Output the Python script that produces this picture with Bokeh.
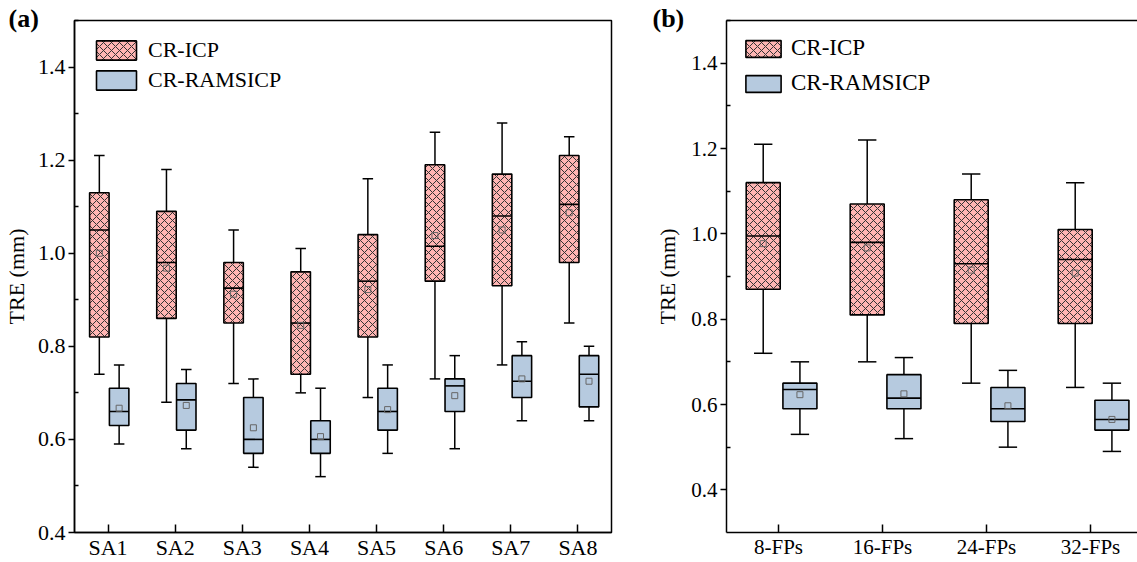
import numpy as np
from bokeh.plotting import figure
from bokeh.models import FixedTicker, LinearAxis, Range1d, PrintfTickFormatter
from bokeh.layouts import row
from bokeh.embed import file_html
from bokeh.resources import INLINE

# ---------------- data ----------------
cats_a = ["SA1", "SA2", "SA3", "SA4", "SA5", "SA6", "SA7", "SA8"]
icp_a_max = [1.21, 1.18, 1.05, 1.01, 1.16, 1.26, 1.28, 1.25]
icp_a_q3 = [1.13, 1.09, 0.98, 0.96, 1.04, 1.19, 1.17, 1.21]
icp_a_med = [1.05, 0.98, 0.925, 0.85, 0.94, 1.015, 1.08, 1.105]
icp_a_mean = [1.00, 0.968, 0.912, 0.845, 0.922, 1.038, 1.05, 1.087]
icp_a_q1 = [0.82, 0.86, 0.85, 0.74, 0.82, 0.94, 0.93, 0.98]
icp_a_min = [0.74, 0.68, 0.72, 0.70, 0.69, 0.73, 0.76, 0.85]

ram_a_max = [0.76, 0.75, 0.73, 0.71, 0.76, 0.78, 0.81, 0.80]
ram_a_q3 = [0.71, 0.72, 0.69, 0.64, 0.71, 0.73, 0.78, 0.78]
ram_a_med = [0.66, 0.685, 0.60, 0.60, 0.66, 0.715, 0.725, 0.74]
ram_a_mean = [0.667, 0.673, 0.625, 0.606, 0.664, 0.694, 0.73, 0.725]
ram_a_q1 = [0.63, 0.62, 0.57, 0.57, 0.62, 0.66, 0.69, 0.67]
ram_a_min = [0.59, 0.58, 0.54, 0.52, 0.57, 0.58, 0.64, 0.64]

cats_b = ["8-FPs", "16-FPs", "24-FPs", "32-FPs"]
icp_b_max = [1.21, 1.22, 1.14, 1.12]
icp_b_q3 = [1.12, 1.07, 1.08, 1.01]
icp_b_med = [0.995, 0.98, 0.93, 0.94]
icp_b_mean = [0.977, 0.967, 0.915, 0.908]
icp_b_q1 = [0.87, 0.81, 0.79, 0.79]
icp_b_min = [0.72, 0.70, 0.65, 0.64]

ram_b_max = [0.70, 0.71, 0.68, 0.65]
ram_b_q3 = [0.65, 0.67, 0.64, 0.61]
ram_b_med = [0.635, 0.615, 0.59, 0.565]
ram_b_mean = [0.623, 0.625, 0.597, 0.565]
ram_b_q1 = [0.59, 0.59, 0.56, 0.54]
ram_b_min = [0.53, 0.52, 0.50, 0.49]

series_names = ["CR-ICP", "CR-RAMSICP"]
panel_tags = ["(a)", "(b)"]
y_title = "TRE (mm)"
y_major = [0.4, 0.6, 0.8, 1.0, 1.2, 1.4]
y_minor = [0.5, 0.7, 0.9, 1.1, 1.3, 1.5]

# ---------------- style ----------------
FONT = "Liberation Serif"
ICP_FILL = "#FFB5B3"
RAM_FILL = "#B6CADF"
HATCH_COLOR = "#333333"


def draw_box(p, xs, mx, q3, med, mean, q1, mn, width, fill, hatch, label):
    xs = np.asarray(xs, dtype=float)
    cap = width * 0.27
    kw = dict(line_color="black", line_width=1.5)
    p.segment(x0=xs, x1=xs, y0=q3, y1=mx, **kw)
    p.segment(x0=xs, x1=xs, y0=q1, y1=mn, **kw)
    p.segment(x0=xs - cap, x1=xs + cap, y0=mx, y1=mx, **kw)
    p.segment(x0=xs - cap, x1=xs + cap, y0=mn, y1=mn, **kw)
    extra = {}
    if hatch:
        extra = dict(hatch_pattern="x", hatch_color=HATCH_COLOR,
                     hatch_scale=8, hatch_weight=1)
    p.vbar(x=xs, width=width, top=q3, bottom=q1, fill_color=fill,
           line_color="black", line_width=1.6, legend_label=label, **extra)
    p.segment(x0=xs - width / 2, x1=xs + width / 2, y0=med, y1=med,
              line_color="black", line_width=1.6)
    p.scatter(x=xs, y=mean, marker="square", size=6, fill_color=None,
              line_color="#666666", line_width=1)


def style(p, cats, tick_font, title_font, title_standoff):
    p.grid.visible = False
    xax = p.below[0]
    yax = p.left[0]
    xax.ticker = FixedTicker(ticks=list(range(1, len(cats) + 1)))
    xax.major_label_overrides = {i + 1: c for i, c in enumerate(cats)}
    xax.major_tick_in = 8
    xax.major_tick_out = 0
    yax.ticker = FixedTicker(ticks=y_major, minor_ticks=y_minor)
    yax.formatter = PrintfTickFormatter(format="%.1f")
    yax.major_tick_out = 6
    yax.major_tick_in = 0
    yax.minor_tick_in = 4
    yax.minor_tick_out = 0
    yax.major_label_standoff = 3
    xax.major_label_standoff = 2
    yax.axis_label = y_title
    yax.axis_label_text_font = FONT
    yax.axis_label_text_font_style = "normal"
    yax.axis_label_text_font_size = title_font
    yax.axis_label_text_color = "black"
    yax.axis_label_standoff = title_standoff
    for ax in (xax, yax):
        ax.axis_line_width = 1.5
        ax.axis_line_color = "black"
        ax.major_tick_line_color = "black"
        ax.major_tick_line_width = 1.5
        ax.minor_tick_line_color = "black"
        ax.minor_tick_line_width = 1.5
        ax.major_label_text_font = FONT
        ax.major_label_text_font_size = tick_font
        ax.major_label_text_color = "black"
    xax.minor_tick_line_color = None


def style_legend(p, margin, spacing, gw, gh, standoff, font):
    lg = p.legend[0]
    lg.location = "top_left"
    lg.margin = margin
    lg.padding = 0
    lg.spacing = spacing
    lg.glyph_width = gw
    lg.glyph_height = gh
    lg.label_height = gh
    lg.label_standoff = standoff
    lg.border_line_color = None
    lg.background_fill_alpha = 0
    lg.label_text_font = FONT
    lg.label_text_font_size = font
    lg.label_text_color = "black"


def tag(p, text, offset):
    p.title.text = text
    p.title.text_font = FONT
    p.title.text_font_style = "bold"
    p.title.text_font_size = "26px"
    p.title.text_color = "black"
    p.title.align = "left"
    p.title.vertical_align = "bottom"
    p.title.offset = offset
    p.title.standoff = -24


W_A = 645
W_B = 1137 - W_A
H = 562

# ---------------- panel (a) ----------------
pa = figure(width=W_A, height=H, x_range=Range1d(0.5, 8.5),
            y_range=Range1d(0.4, 1.5), output_backend="svg",
            toolbar_location=None, min_border_left=73,
            min_border_right=W_A - 611, min_border_top=20,
            min_border_bottom=28)
pa.outline_line_color = "black"
pa.outline_line_width = 1.5
pa.outline_line_alpha = 1.0

xa = np.arange(1, len(cats_a) + 1)
draw_box(pa, xa - 0.13, icp_a_max, icp_a_q3, icp_a_med, icp_a_mean, icp_a_q1,
         icp_a_min, 0.29, ICP_FILL, True, series_names[0])
draw_box(pa, xa + 0.165, ram_a_max, ram_a_q3, ram_a_med, ram_a_mean, ram_a_q1,
         ram_a_min, 0.29, RAM_FILL, False, series_names[1])
style(pa, cats_a, "22px", "22px", 6)
style_legend(pa, 17, 4, 50, 24, 7, "22px")
tag(pa, panel_tags[0], -66)

# ---------------- panel (b) ----------------
pb = figure(width=W_B, height=H, x_range=Range1d(0.5, 4.452),
            y_range=Range1d(0.3, 1.5), output_backend="svg",
            toolbar_location=None, min_border_left=726 - W_A,
            min_border_right=0, min_border_top=20, min_border_bottom=28)
pb.outline_line_color = None
top_axis = LinearAxis(ticker=FixedTicker(ticks=[]), axis_line_width=1.5,
                      axis_line_color="black", major_tick_line_color=None,
                      minor_tick_line_color=None, major_tick_in=0,
                      major_tick_out=0, major_label_standoff=0,
                      major_label_text_font_size="0px")
pb.add_layout(top_axis, "above")

xb = np.arange(1, len(cats_b) + 1)
draw_box(pb, xb - 0.147, icp_b_max, icp_b_q3, icp_b_med, icp_b_mean, icp_b_q1,
         icp_b_min, 0.327, ICP_FILL, True, series_names[0])
draw_box(pb, xb + 0.206, ram_b_max, ram_b_q3, ram_b_med, ram_b_mean, ram_b_q1,
         ram_b_min, 0.327, RAM_FILL, False, series_names[1])
style(pb, cats_b, "21px", "22px", 8)
style_legend(pb, 15, 9, 44, 21, 6, "23px")
tag(pb, panel_tags[1], -74)

layout = row(pa, pb, spacing=0)
open("out.html", "w").write(file_html(layout, INLINE))
